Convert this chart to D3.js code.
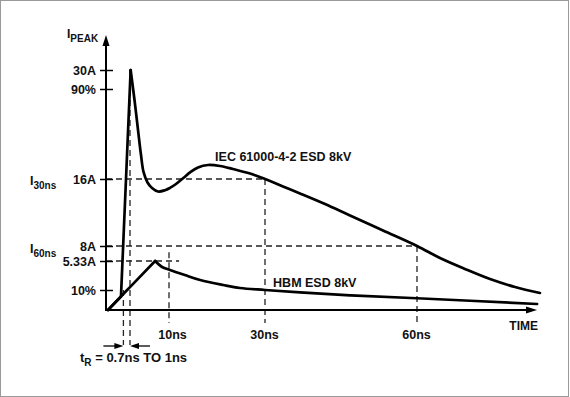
<!DOCTYPE html>
<html lang="en">
<head>
<meta charset="UTF-8">
<title>ESD waveforms</title>
<script src="https://d3js.org/d3.v7.min.js"></script>
<style>
    html, body { margin: 0; padding: 0; background: #fff; overflow: hidden; }
    svg { display: block; }
    text { font-family: "Liberation Sans", Arial, sans-serif; font-weight: bold; fill: #111; }
    .curve { fill: none; stroke: #000; stroke-width: 2.7; stroke-linejoin: round; stroke-linecap: round; }
    .guide { fill: none; stroke: #222; stroke-width: 1.3; stroke-dasharray: 6,4; }
    .axisline { stroke: #000; stroke-width: 2; }
</style>
</head>
<body>
<script>
// y ticks (amps) and their labels
const currentTicks = [30, 27, 16, 8, 5.33, 3];
const currentLabels = ["30A", "90%", "16A", "8A", "5.33A", "10%"];
// x ticks (ns)
const timeTicks = [10, 30, 60];
const timeLabels = ["10ns", "30ns", "60ns"];

// IEC 61000-4-2 8kV waveform
const iecTime =    [0, 0.59, 1.15, 2.04, 2.85, 3.54, 4.12, 5.04, 6.08, 7.46, 9.08, 10.21, 11.46, 12.92, 14.38, 16.04, 18.13, 20.63, 23.33, 26.88, 30, 33.55, 36.91, 41.84, 46.78, 53.29, 60, 64.54, 69.47, 74.41, 79.34, 84.27];
const iecCurrent = [0, 2.0, 30, 25.66, 21.99, 18.93, 16.86, 15.58, 14.93, 14.51, 14.66, 14.94, 15.40, 16.09, 16.81, 17.41, 17.71, 17.59, 17.22, 16.67, 16.0, 15.10, 14.27, 13.01, 11.64, 9.85, 8.0, 5.86, 4.69, 3.88, 3.24, 2.55];

// HBM 8kV waveform
const hbmTime =    [0, 0.87, 1, 6.8, 8.4, 10.2, 13.3, 16.5, 21.3, 24.8, 30, 36.9, 46.8, 60, 83.7];
const hbmCurrent = [0, 3.0, 3.23, 5.33, 4.85, 4.61, 4.2, 3.8, 3.4, 3.16, 3.0, 2.63, 2.2, 1.76, 0.9];

const W = 570, H = 397;
const axisX = 106, axisY = 310, axisTop = 35, axisRight = 537;

// schematic (not to scale) axes -> piecewise scales
const x = d3.scaleLinear().domain([0, 1, 10, 30, 60]).range([108, 130, 169, 265, 417]);
const y = d3.scaleLinear().domain([0, 3, 5.33, 8, 16, 27, 30]).range([310, 290, 261, 246, 179, 89, 70]);

const svg = d3.select("body").append("svg").attr("width", W).attr("height", H);

// frame
svg.append("rect")
    .attr("x", 0.5).attr("y", 0.5).attr("width", 568).attr("height", 396)
    .attr("fill", "none").attr("stroke", "#9a9a9a").attr("stroke-width", 1);

const guides = svg.append("g");
const belowAxis = axisY + 13;

// horizontal guides: 16A to 30ns, 8A to 60ns, 5.33A to ~12ns
[[16, 30], [8, 60], [5.33, 12.1]].forEach(([i, t]) => {
    guides.append("line").attr("class", "guide")
        .attr("x1", axisX).attr("x2", x(t)).attr("y1", y(i)).attr("y2", y(i));
});
// vertical guides
[[30, 16, belowAxis], [60, 8, belowAxis], [10, 6.9, belowAxis], [1, 30, 345], [0.7, 3, 345]].forEach(([t, i, yEnd]) => {
    guides.append("line").attr("class", "guide")
        .attr("x1", x(t)).attr("x2", x(t)).attr("y1", y(i)).attr("y2", yEnd);
});

// axes lines + arrows
svg.append("line").attr("class", "axisline")
    .attr("x1", axisX).attr("x2", axisX).attr("y1", axisY + 1).attr("y2", axisTop + 6);
svg.append("line").attr("class", "axisline")
    .attr("x1", axisX - 1).attr("x2", axisRight - 6).attr("y1", axisY).attr("y2", axisY);
svg.append("path")
    .attr("d", `M${axisX},${axisTop} L${axisX - 3.5},${axisTop + 11} L${axisX + 3.5},${axisTop + 11} Z`)
    .attr("fill", "#000");
svg.append("path")
    .attr("d", `M${axisRight},${axisY} L${axisRight - 11},${axisY - 3.5} L${axisRight - 11},${axisY + 3.5} Z`)
    .attr("fill", "#000");

// y axis ticks and labels
const yAxis = svg.append("g")
    .attr("transform", `translate(${axisX},0)`)
    .call(d3.axisLeft(y).tickValues(currentTicks)
        .tickFormat((d, i) => currentLabels[i]).tickSize(6).tickPadding(4));
yAxis.select(".domain").remove();
yAxis.selectAll(".tick line").attr("x1", -6).attr("x2", 7).attr("stroke", "#000").attr("stroke-width", 1.5);
yAxis.selectAll(".tick text")
    .attr("font-family", '"Liberation Sans", Arial, sans-serif')
    .attr("font-size", 12.5).attr("font-weight", "bold").attr("fill", "#111");

// x axis labels
const xAxis = svg.append("g")
    .attr("transform", `translate(0,${axisY})`)
    .call(d3.axisBottom(x).tickValues(timeTicks)
        .tickFormat((d, i) => timeLabels[i]).tickSize(0).tickPadding(20));
xAxis.select(".domain").remove();
xAxis.selectAll(".tick text")
    .attr("font-family", '"Liberation Sans", Arial, sans-serif')
    .attr("font-size", 12.5).attr("font-weight", "bold").attr("fill", "#111")
    .attr("dx", (d, i) => i === 0 ? 3 : -1);

// curves: straight rise, smooth decay
function drawCurve(ts, is, splitAt) {
    const pts = ts.map((t, k) => [x(t), y(is[k])]);
    const lin = d3.line().curve(d3.curveLinear);
    const smooth = d3.line().curve(d3.curveCatmullRom.alpha(0.5));
    svg.append("path").attr("class", "curve").attr("d", lin(pts.slice(0, splitAt + 1)));
    svg.append("path").attr("class", "curve").attr("d", smooth(pts.slice(splitAt)));
}
drawCurve(hbmTime, hbmCurrent, 3);
drawCurve(iecTime, iecCurrent, 2);

// curve labels
svg.append("text").attr("x", x(19.6)).attr("y", y(18.2)).attr("font-size", 12.5).text("IEC 61000-4-2 ESD 8kV");
svg.append("text").attr("x", x(31.6)).attr("y", y(3.24)).attr("font-size", 12.5).text("HBM ESD 8kV");
svg.append("text").attr("x", axisRight + 1).attr("y", 330).attr("text-anchor", "end").attr("font-size", 12).text("TIME");

// subscripted labels
function subLabel(xp, yp, main, sub, size, subSize, drop) {
    const t = svg.append("text").attr("x", xp).attr("y", yp).attr("font-size", size);
    t.append("tspan").text(main);
    t.append("tspan").attr("font-size", subSize).attr("dy", drop).text(sub);
    return t;
}
subLabel(67, 38, "I", "PEAK", 12, 10, 4);
subLabel(30, 185, "I", "30ns", 12.5, 10, 4);
subLabel(30, 253, "I", "60ns", 12.5, 10, 4);

const tr = svg.append("text").attr("x", 80).attr("y", 362).attr("font-size", 13);
tr.append("tspan").text("t");
tr.append("tspan").attr("font-size", 10).attr("dy", 4).text("R");
tr.append("tspan").attr("dy", -4).text(" = 0.7ns TO 1ns");

// rise-time arrows
const arrowY = 346;
function arrow(tip, dir) {
    const xt = x(tip);
    svg.append("line").attr("x1", xt - dir * 20).attr("x2", xt - dir * 8)
        .attr("y1", arrowY).attr("y2", arrowY).attr("stroke", "#000").attr("stroke-width", 1.3);
    svg.append("path")
        .attr("d", `M${xt},${arrowY} L${xt - dir * 9},${arrowY - 3} L${xt - dir * 9},${arrowY + 3} Z`)
        .attr("fill", "#000");
}
arrow(0.7, 1);
arrow(1, -1);
</script>
</body>
</html>
